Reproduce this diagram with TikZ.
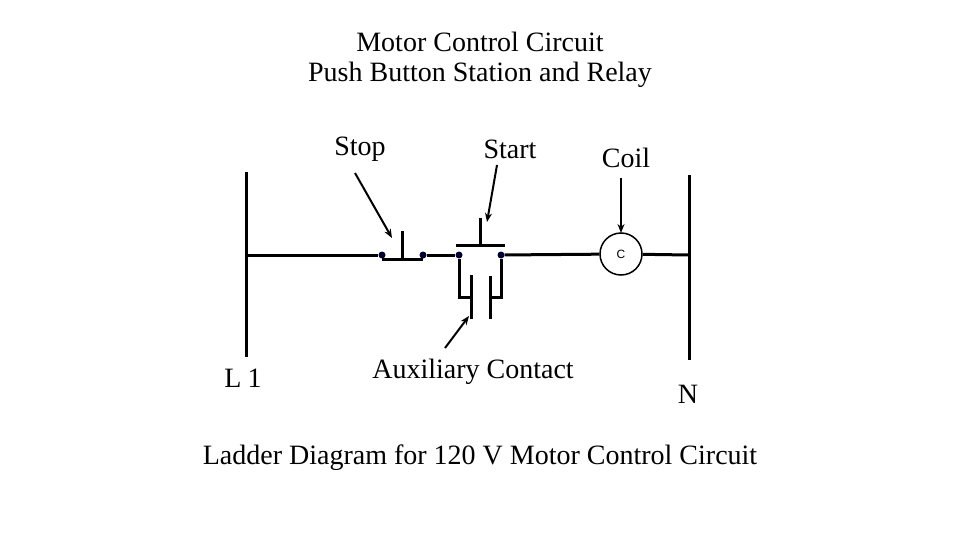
\documentclass[tikz,border=0pt]{standalone}
\usepackage{fontspec}
\setmainfont{Liberation Serif}
\newfontfamily\sansf{Liberation Sans}
\usetikzlibrary{arrows.meta}
\begin{document}
\begin{tikzpicture}[x=1pt,y=-1pt,
  w/.style={line width=3pt},
  lbl/.style={font=\fontsize{28}{34}\selectfont,inner sep=0pt},
  ar/.style={line width=2pt,-{Stealth[length=9pt,width=7pt]}},
  dot/.style={circle,fill=black!80!blue,inner sep=0pt,minimum size=7pt}]
\useasboundingbox (0,0) rectangle (960,540);
\node[lbl] (t1) at (480,42) {Motor Control Circuit};
\node[lbl] (t2) at (480,75) {Push Button Station and Relay};
\node[lbl] (stop) at (360,149) {Stop};
\node[lbl] (start) at (510,149) {Start};
\node[lbl] (coil) at (626,158) {Coil};
\node[lbl] (l1) at (243,378) {L\hspace{6pt}1};
\node[lbl] (aux) at (473,372) {Auxiliary Contact};
\node[lbl] (n) at (688,394) {N};
\node[lbl] (bt) at (480,458) {Ladder Diagram for 120 V Motor Control Circuit};
\draw[w] (246,172) -- (246,357);
\draw[w] (689,175) -- (689,360);
\node[draw,circle,line width=1.5pt,minimum size=42pt,inner sep=0pt,font=\sansf\fontsize{12}{14}\selectfont] (c) at (621,254) {C};
\node[dot] (d1) at (382,255) {};
\node[dot] (d2) at (423,255) {};
\node[dot] (d3) at (459,255) {};
\node[dot] (d4) at (501,255) {};
\coordinate (l1w) at (246,255);
\coordinate (nw) at (689,255);
\draw[w] (l1w) -- (d1);
\draw[w] (d2) -- (d3);
\draw[w] (d4) -- (c);
\draw[w] (c) -- (nw);
% stop button
\draw[w] (382,259) -- (423,259);
\draw[w] (402,259) -- (402,231);
% start button
\draw[w] (456,245) -- (505,245);
\draw[w] (480,245) -- (480,218);
% auxiliary contact
\draw[w] (d3) -- (459,297) -- (472,297);
\draw[w] (471,275) -- (471,319);
\draw[w] (d4) -- (501,297) -- (489,297);
\draw[w] (490,276) -- (490,319);
% arrows
\coordinate (sa) at (392,238);
\coordinate (sb) at (487,222);
\coordinate (ca) at (621,233);
\coordinate (aa) at (469,316);
\draw[ar] (355,173) -- (sa);
\draw[ar] (497,165) -- (sb);
\draw[ar] (621,178) -- (ca);
\draw[ar] (445,348) -- (aa);
\end{tikzpicture}
\end{document}
